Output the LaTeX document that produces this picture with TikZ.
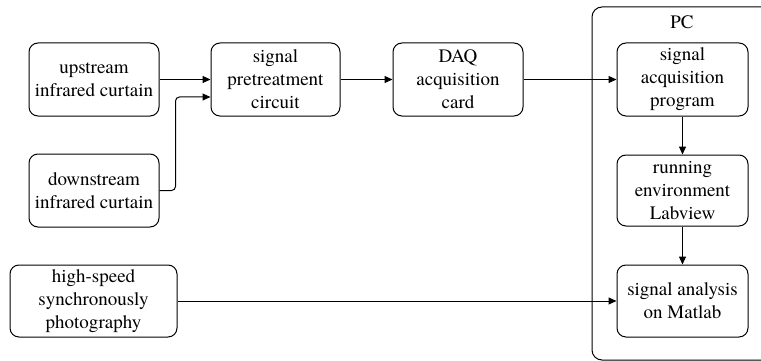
\documentclass[tikz,border=0pt]{standalone}
\usepackage{fontspec}
\setmainfont{texgyretermes}[Extension=.otf, UprightFont=*-regular, BoldFont=*-bold]
\usetikzlibrary{arrows.meta}
\begin{document}
\begin{tikzpicture}[x=1pt,y=-1pt,
  blk/.style={draw, line width=1pt, rounded corners=9pt, minimum width=130pt, minimum height=73pt,
    align=center, inner sep=0pt, font=\fontsize{19}{23}\selectfont},
  conn/.style={line width=1pt, -{Triangle[length=8pt,width=7pt]}}]
\useasboundingbox (0,0) rectangle (761,361);
\clip (0,0) rectangle (761,361);
\fill[white] (0,0) rectangle (761,361);
\node (pc) [draw, line width=1pt, rounded corners=10pt, minimum width=200pt, minimum height=353pt, inner sep=0pt] at (692,183.5) {};
\node (pclabel) [font=\fontsize{19}{23}\selectfont, inner sep=0pt] at (682,22) {PC};
\node (up) [blk] at (94,79.5) {upstream\\infrared curtain};
\node (down) [blk] at (94,190.5) {downstream\\infrared curtain};
\node (pre) [blk, minimum width=129pt] at (275.5,79.5) {signal\\pretreatment\\circuit};
\node (daq) [blk] at (458,79.5) {DAQ\\acquisition\\card};
\node (acq) [blk, minimum width=131pt] at (682.5,79.5) {signal\\acquisition\\program};
\node (run) [blk, minimum width=131pt, minimum height=71pt] at (682.5,190.5) {running\\environment\\Labview};
\node (hs) [blk, minimum width=167pt, minimum height=72pt] at (93.5,301) {high-speed\\synchronously\\photography};
\node (ana) [blk, minimum width=131pt, minimum height=72pt] at (682.5,301) {signal analysis\\on Matlab};
\draw[conn] (up) -- (pre);
\draw[conn, rounded corners=4pt] (down.east) -- ++(16,0) |- ([yshift=-17.5pt]pre.west);
\draw[conn] (pre) -- (daq);
\draw[conn] (daq) -- (acq);
\draw[conn] (acq) -- (run);
\draw[conn] (run) -- (ana);
\draw[conn] (hs) -- (ana);
\end{tikzpicture}
\end{document}
